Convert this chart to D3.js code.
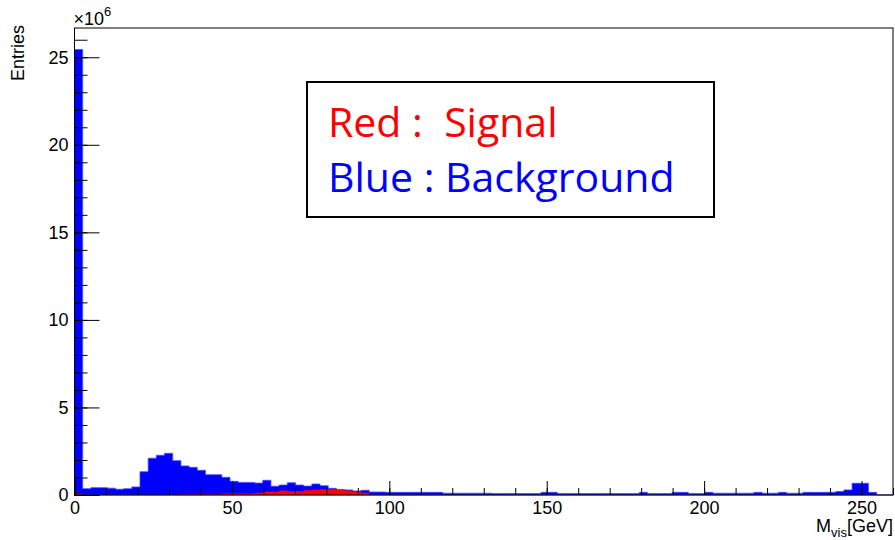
<!DOCTYPE html>
<meta charset="utf-8">
<style>
  body { margin: 0; background: #fff; }
  text { font-family: "Liberation Sans", Arial, sans-serif; }
</style>
<body>
<div class="chart"></div>
<script src="https://d3js.org/d3.v7.min.js"></script>
<script>

    // histogram: 100 bins from 0 to 260 GeV, values in units of 10^6 entries
    const binEdges = [0, 260];
    const nBins = 100;

    const background = [
        25.44, 0.36, 0.42, 0.42, 0.39, 0.33, 0.36, 0.46, 1.33, 2.10,
        2.27, 2.38, 1.96, 1.66, 1.58, 1.41, 1.16, 1.16, 1.01, 0.78,
        0.72, 0.72, 0.68, 0.84, 0.50, 0.57, 0.70, 0.57, 0.51, 0.63,
        0.53, 0.38, 0.32, 0.29, 0.23, 0.27, 0.17, 0.17, 0.15, 0.15,
        0.15, 0.15, 0.15, 0.15, 0.15, 0.10, 0.10, 0.10, 0.10, 0.10,
        0.10, 0.08, 0.08, 0.08, 0.08, 0.08, 0.08, 0.15, 0.15, 0.08,
        0.08, 0.08, 0.08, 0.08, 0.08, 0.08, 0.08, 0.08, 0.08, 0.15,
        0.08, 0.08, 0.08, 0.15, 0.15, 0.08, 0.08, 0.15, 0.10, 0.10,
        0.10, 0.10, 0.10, 0.15, 0.10, 0.10, 0.15, 0.10, 0.10, 0.15,
        0.15, 0.15, 0.15, 0.20, 0.29, 0.67, 0.67, 0.15, 0.00, 0.00
    ];

    const signal = [
        0.05, 0, 0, 0, 0, 0, 0, 0, 0, 0,
        0, 0, 0, 0.03, 0.03, 0.03, 0.03, 0.03, 0.08, 0.08,
        0.08, 0.08, 0.13, 0.19, 0.19, 0.25, 0.22, 0.22, 0.27, 0.30,
        0.33, 0.33, 0.30, 0.25, 0.19, 0.13, 0, 0, 0, 0
    ];

    const xTicks = [0, 50, 100, 150, 200, 250];
    const yTicks = [0, 5, 10, 15, 20, 25];
    const legendLines = [
        {label: "Red :  Signal", color: "#ff0000"},
        {label: "Blue : Background", color: "#0000ff"}
    ];

    const width = 895, height = 540;
    const margin = {top: 28, right: 2, bottom: 45, left: 74.5};
    const yMax = 26.67;

    let svg = d3.select(".chart").append("svg")
        .attr("width", width)
        .attr("height", height);

    let x = d3.scaleLinear().domain(binEdges).range([margin.left, width - margin.right]);
    let y = d3.scaleLinear().domain([0, yMax]).range([height - margin.bottom, margin.top]);

    let binWidth = (binEdges[1] - binEdges[0]) / nBins;

    // turn bin contents into step points (last point closes the final bin)
    function steps(values) {
        let pts = values.map((v, i) => ({x: binEdges[0] + i * binWidth, v: v}));
        pts.push({x: binEdges[0] + values.length * binWidth, v: 0});
        return pts;
    }

    let area = d3.area()
        .curve(d3.curveStepAfter)
        .x(d => x(d.x))
        .y0(y(0))
        .y1(d => y(d.v));

    svg.append("path")
        .datum(steps(background))
        .attr("fill", "#0000ff")
        .attr("stroke", "#4a4aff")
        .attr("stroke-width", 0.8)
        .attr("d", area);

    svg.append("path")
        .datum(steps(signal))
        .attr("fill", "#ff0000")
        .attr("d", area);

    // axes, ROOT style ticks pointing inwards
    let yMinor = svg.append("g")
        .attr("transform", `translate(${margin.left},0)`)
        .call(d3.axisLeft(y).tickValues(d3.range(0, 27, 1)).tickSize(-13).tickSizeOuter(0).tickFormat(""));
    let yMajor = svg.append("g")
        .attr("transform", `translate(${margin.left},0)`)
        .call(d3.axisLeft(y).tickValues(yTicks).tickSize(-25).tickSizeOuter(0).tickPadding(6));
    let xMinor = svg.append("g")
        .attr("transform", `translate(0,${height - margin.bottom})`)
        .call(d3.axisBottom(x).tickValues(d3.range(0, 261, 10)).tickSize(-7).tickSizeOuter(0).tickFormat(""));
    let xMajor = svg.append("g")
        .attr("transform", `translate(0,${height - margin.bottom})`)
        .call(d3.axisBottom(x).tickValues(xTicks).tickSize(-14).tickSizeOuter(0).tickPadding(6));

    [yMinor, yMajor, xMinor, xMajor].forEach(g => {
        g.select(".domain").remove();
        g.selectAll("line").attr("stroke", "#000");
        g.selectAll("text")
            .attr("fill", "#000")
            .style("font-family", "'Liberation Sans', Arial, sans-serif")
            .style("font-size", "18px");
    });

    // frame
    svg.append("rect")
        .attr("x", margin.left)
        .attr("y", margin.top)
        .attr("width", width - margin.right - margin.left)
        .attr("height", height - margin.bottom - margin.top)
        .attr("fill", "none")
        .attr("stroke", "#000")
        .attr("stroke-width", 1);

    // exponent label
    let expo = svg.append("text")
        .attr("x", margin.left - 1)
        .attr("y", 25)
        .style("font-size", "18px");
    expo.append("tspan").text("\u00d710");
    expo.append("tspan").attr("dy", -9).style("font-size", "13px").text("6");

    // y title
    svg.append("text")
        .attr("transform", "translate(24,25) rotate(-90)")
        .attr("text-anchor", "end")
        .style("font-size", "18px")
        .text("Entries");

    // x title
    let xt = svg.append("text")
        .attr("x", width - 2)
        .attr("y", 532)
        .attr("text-anchor", "end")
        .style("font-size", "18px");
    xt.append("tspan").text("M");
    xt.append("tspan").attr("dy", 5).style("font-size", "13px").text("vis");
    xt.append("tspan").attr("dy", -5).text("[GeV]");

    // legend box
    let legend = svg.append("g");
    legend.append("rect")
        .attr("x", 307)
        .attr("y", 82)
        .attr("width", 407)
        .attr("height", 135)
        .attr("fill", "#fff")
        .attr("stroke", "#000")
        .attr("stroke-width", 2);
    legend.selectAll("text.leg")
        .data(legendLines)
        .join("text")
        .attr("class", "leg")
        .attr("x", 328)
        .attr("y", (d, i) => 137 + i * 55)
        .attr("fill", d => d.color)
        .style("font-family", "'Open Sans', Lato, sans-serif")
        .style("font-size", "41px")
        .style("white-space", "pre")
        .text(d => d.label);

</script>
